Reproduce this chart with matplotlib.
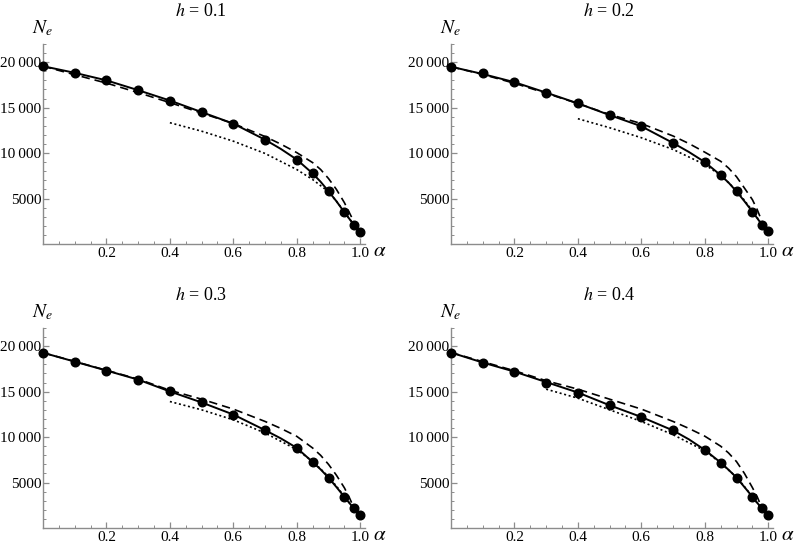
import matplotlib
matplotlib.use("Agg")
import matplotlib.pyplot as plt
from matplotlib.ticker import MultipleLocator, FixedLocator

plt.rcParams['font.family'] = ['Liberation Serif', 'DejaVu Serif']
plt.rcParams['mathtext.fontset'] = 'stix'

# simulated points (dots)
alpha_pts = [0, 0.1, 0.2, 0.3, 0.4, 0.5, 0.6, 0.7, 0.8, 0.85, 0.9, 0.95, 0.98, 1.0]
dots_h1 = [19560, 18830, 18000, 16920, 15780, 14510, 13240, 11470, 9290, 7760, 5800, 3490, 2120, 1360]
dots_h2 = [19500, 18780, 17800, 16600, 15470, 14180, 13000, 11110, 9010, 7570, 5780, 3560, 2130, 1390]
dots_h3 = [19250, 18280, 17320, 16320, 15020, 13810, 12480, 10760, 8810, 7250, 5530, 3420, 2150, 1400]
dots_h4 = [19300, 18150, 17200, 16000, 14900, 13480, 12210, 10730, 8590, 7200, 5550, 3440, 2150, 1420]

# solid curve
alpha_line = [0, 0.1, 0.2, 0.3, 0.4, 0.5, 0.6, 0.7, 0.75, 0.8, 0.85, 0.875, 0.9, 0.925,
              0.95, 0.965, 0.98, 0.99, 1.0]
solid_h1 = [19560, 18830, 18000, 16920, 15780, 14510, 13240, 11470, 10450, 9290, 7760, 6850,
            5800, 4700, 3490, 2800, 2120, 1700, 1360]
solid_h2 = [19500, 18700, 17800, 16650, 15470, 14180, 12950, 11110, 10120, 9010, 7570, 6750,
            5780, 4700, 3560, 2850, 2130, 1750, 1390]
solid_h3 = [19280, 18300, 17320, 16320, 15020, 13810, 12480, 10760, 9850, 8810, 7250, 6450,
            5530, 4500, 3420, 2780, 2150, 1750, 1400]
solid_h4 = [19300, 18200, 17200, 16050, 14900, 13500, 12210, 10730, 9750, 8590, 7200, 6400,
            5550, 4500, 3440, 2780, 2150, 1750, 1420]

# dashed curve
alpha_dash = [0, 0.1, 0.2, 0.3, 0.4, 0.5, 0.6, 0.7, 0.75, 0.8, 0.85, 0.875, 0.9, 0.925,
              0.95, 0.965, 0.98, 0.99]
dash_h1 = [19560, 18620, 17700, 16650, 15550, 14400, 13250, 11820, 10980, 10050, 8950, 8200,
           7200, 6000, 4550, 3500, 2450, 1850]
dash_h2 = [19500, 18650, 17680, 16580, 15450, 14250, 13250, 11880, 11050, 10100, 9100, 8350,
           7400, 6150, 4880, 3800, 2500, 1850]
dash_h3 = [19280, 18320, 17350, 16380, 15150, 14170, 13080, 11720, 10950, 10080, 8800, 8000,
           7000, 5800, 4420, 3400, 2230, 1750]
dash_h4 = [19300, 18300, 17300, 16200, 15270, 14170, 13080, 11720, 10950, 10100, 9000, 8250,
           7300, 6000, 4450, 3450, 2200, 1750]

# dotted curve
alpha_dot = [0.4, 0.5, 0.6, 0.7, 0.8, 0.85, 0.9, 0.925, 0.95, 0.965, 0.98, 0.99]
alpha_dot4 = [0.3, 0.4, 0.5, 0.6, 0.7, 0.8, 0.85, 0.9, 0.925, 0.95, 0.965, 0.98, 0.99]
dot_h1 = [13340, 12410, 11310, 9960, 8190, 7090, 5750, 4700, 3550, 2800, 2150, 1700]
dot_h2 = [13780, 12790, 11690, 10400, 8740, 7560, 5900, 4800, 3650, 2900, 2200, 1750]
dot_h3 = [13910, 13000, 11900, 10450, 8620, 7340, 5650, 4600, 3480, 2800, 2150, 1700]
dot_h4 = [15270, 14280, 13000, 11720, 10260, 8500, 7150, 5600, 4550, 3450, 2750, 2150, 1700]

titles = ["0.1", "0.2", "0.3", "0.4"]
y_ticks = [5000, 10000, 15000, 20000]
y_labels = ["5000", "10\u2009000", "15\u2009000", "20\u2009000"]
x_ticks = [0.2, 0.4, 0.6, 0.8, 1.0]
x_labels = ["0.2", "0.4", "0.6", "0.8", "1.0"]

panels = [
    (solid_h1, dots_h1, dash_h1, alpha_dot, dot_h1),
    (solid_h2, dots_h2, dash_h2, alpha_dot, dot_h2),
    (solid_h3, dots_h3, dash_h3, alpha_dot, dot_h3),
    (solid_h4, dots_h4, dash_h4, alpha_dot4, dot_h4),
]

# axes boxes in pixels: left, axis line y, in the 796x545 figure
W, H = 796, 545
boxes = [(43, 244), (451, 244), (43, 528), (451, 528)]
ax_w, ax_h = 322, 200
axis_gray = '#8c8c8c'

fig = plt.figure(figsize=(W / 100, H / 100), dpi=100)

for i, (solid, dots, dash, a_dot, dotted) in enumerate(panels):
    left, base = boxes[i]
    ax = fig.add_axes([left / W, 1 - base / H, ax_w / W, ax_h / H])

    ax.plot(alpha_line, solid, color='black', lw=1.4, zorder=3)
    ax.plot(alpha_dash, dash, color='black', lw=1.2, dashes=(5, 3), zorder=2)
    ax.plot(a_dot, dotted, color='black', lw=1.2, dashes=(1.2, 1.6), zorder=2)
    ax.plot(alpha_pts, dots, 'o', color='black', ms=6.2, zorder=4, clip_on=False)

    ax.set_xlim(0, 1.015)
    ax.set_ylim(0, 22000)

    for side in ['top', 'right']:
        ax.spines[side].set_visible(False)
    for side in ['left', 'bottom']:
        ax.spines[side].set_color(axis_gray)
        ax.spines[side].set_linewidth(1.0)

    ax.xaxis.set_major_locator(FixedLocator(x_ticks))
    ax.set_xticklabels(x_labels)
    ax.xaxis.set_minor_locator(MultipleLocator(0.05))
    ax.yaxis.set_major_locator(FixedLocator(y_ticks))
    ax.set_yticklabels(y_labels)
    ax.yaxis.set_minor_locator(MultipleLocator(1000))
    ax.tick_params(which='both', direction='in', color=axis_gray, labelsize=11,
                   labelcolor='black')
    ax.tick_params(axis='y', pad=1)
    ax.tick_params(axis='x', pad=2.5)
    ax.tick_params(which='major', length=4, width=0.9)
    ax.tick_params(which='minor', length=2.3, width=0.7)

    ax.text(0.0, 1.03, r'$N_e$', transform=ax.transAxes, ha='center', va='bottom',
            fontsize=14)
    ax.text(1.025, -0.04, r'$\alpha$', transform=ax.transAxes, ha='left', va='center',
            fontsize=15)
    ax.text(0.49, 1.165, r'$h$ = ' + titles[i], transform=ax.transAxes, ha='center',
            va='center', fontsize=13)

fig.savefig('out.png', dpi=100)
